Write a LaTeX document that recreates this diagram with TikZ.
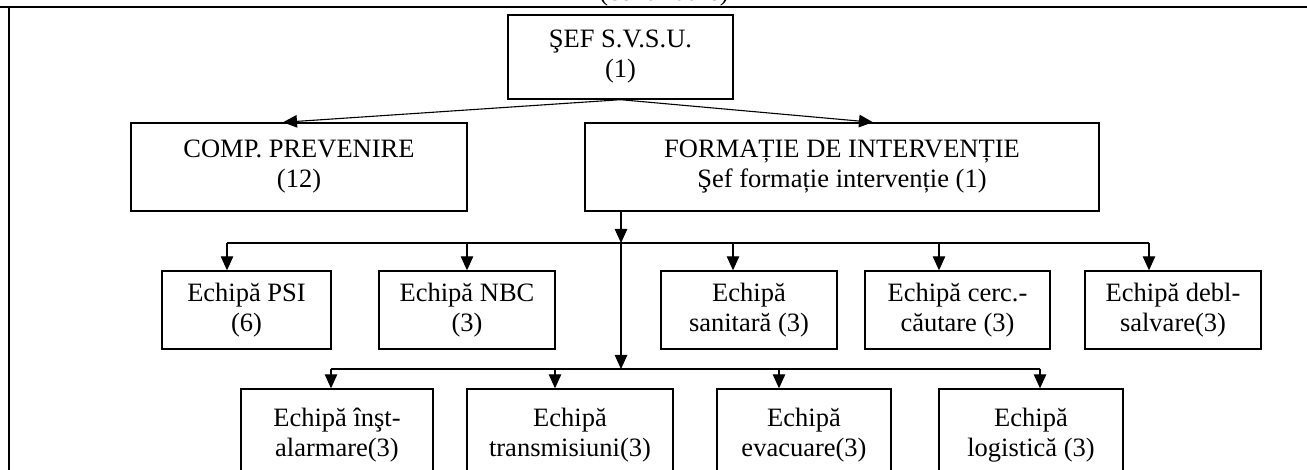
\documentclass[tikz,border=0pt]{standalone}
\usepackage{fontspec}
\setmainfont{Liberation Serif}
\usetikzlibrary{arrows.meta}
\begin{document}
\begin{tikzpicture}[x=1pt,y=-1pt,
  txt/.style={font=\fontsize{26.5}{30}\selectfont},
  box/.style={txt,draw,line width=1.4pt,inner sep=0pt,align=center},
  arr/.style={line width=1.1pt,-{Triangle[length=14pt,width=12.5pt]}},
  conn/.style={line width=1.1pt},
  frame/.style={line width=2pt}]
\useasboundingbox (0,0) rectangle (1307,470);
% frame
\draw[frame] (0,7) -- (1307,7);
\draw[frame] (9,7) -- (9,470);
\node[txt,anchor=base] (hdr) at (664,1) {(continuare)};
% top level
\node[box,minimum width=225,minimum height=84] (sef) at (620.5,57) {ŞEF S.V.S.U.\\(1)};
\node[box,minimum width=336,minimum height=88] (comp) at (299,167) {COMP. PREVENIRE\\(12)};
\node[box,minimum width=514,minimum height=88] (form) at (842,167) {FORMAȚIE DE INTERVENȚIE\\Şef formație intervenție (1)};
% row 1
\node[box,minimum width=169,minimum height=78] (psi) at (246.5,310) {Echipă PSI\\(6)};
\node[box,minimum width=176,minimum height=78] (nbc) at (467,310) {Echipă NBC\\(3)};
\node[box,minimum width=176,minimum height=78] (san) at (749,310) {Echipă\\sanitară (3)};
\node[box,minimum width=185,minimum height=78] (cerc) at (957.5,310) {Echipă cerc.-\\căutare (3)};
\node[box,minimum width=176,minimum height=78] (debl) at (1173,310) {Echipă debl-\\salvare(3)};
% row 2
\node[box,minimum width=192,minimum height=92] (inst) at (337,435) {Echipă înşt-\\alarmare(3)};
\node[box,minimum width=206,minimum height=92] (trans) at (570,435) {Echipă\\transmisiuni(3)};
\node[box,minimum width=174,minimum height=92] (evac) at (804,435) {Echipă\\evacuare(3)};
\node[box,minimum width=184,minimum height=92] (log) at (1031,435) {Echipă\\logistică (3)};
% junctions
\coordinate (j1) at (621,243);
\coordinate (j2) at (621,369);
% arrows top
\draw[arr] (sef.south) -- ([xshift=-16pt]comp.north);
\draw[arr] (sef.south) -- ([xshift=31pt]form.north);
\draw[arr] (form.south -| j1) -- (j1);
\draw[arr] (j1) -- (j2);
% bus 1
\coordinate (d1) at (227,243);
\coordinate (d2) at (467,243);
\coordinate (d3) at (733,243);
\coordinate (d4) at (939,243);
\coordinate (d5) at (1149,243);
\draw[conn] (d1) -- (d5);
\draw[arr] (d1) -- (d1 |- psi.north);
\draw[arr] (d2) -- (d2 |- nbc.north);
\draw[arr] (d3) -- (d3 |- san.north);
\draw[arr] (d4) -- (d4 |- cerc.north);
\draw[arr] (d5) -- (d5 |- debl.north);
% bus 2
\coordinate (e1) at (331,369);
\coordinate (e2) at (555,369);
\coordinate (e3) at (779,369);
\coordinate (e4) at (1040,369);
\draw[conn] (e1) -- (e4);
\draw[arr] (e1) -- (e1 |- inst.north);
\draw[arr] (e2) -- (e2 |- trans.north);
\draw[arr] (e3) -- (e3 |- evac.north);
\draw[arr] (e4) -- (e4 |- log.north);
\end{tikzpicture}
\end{document}
